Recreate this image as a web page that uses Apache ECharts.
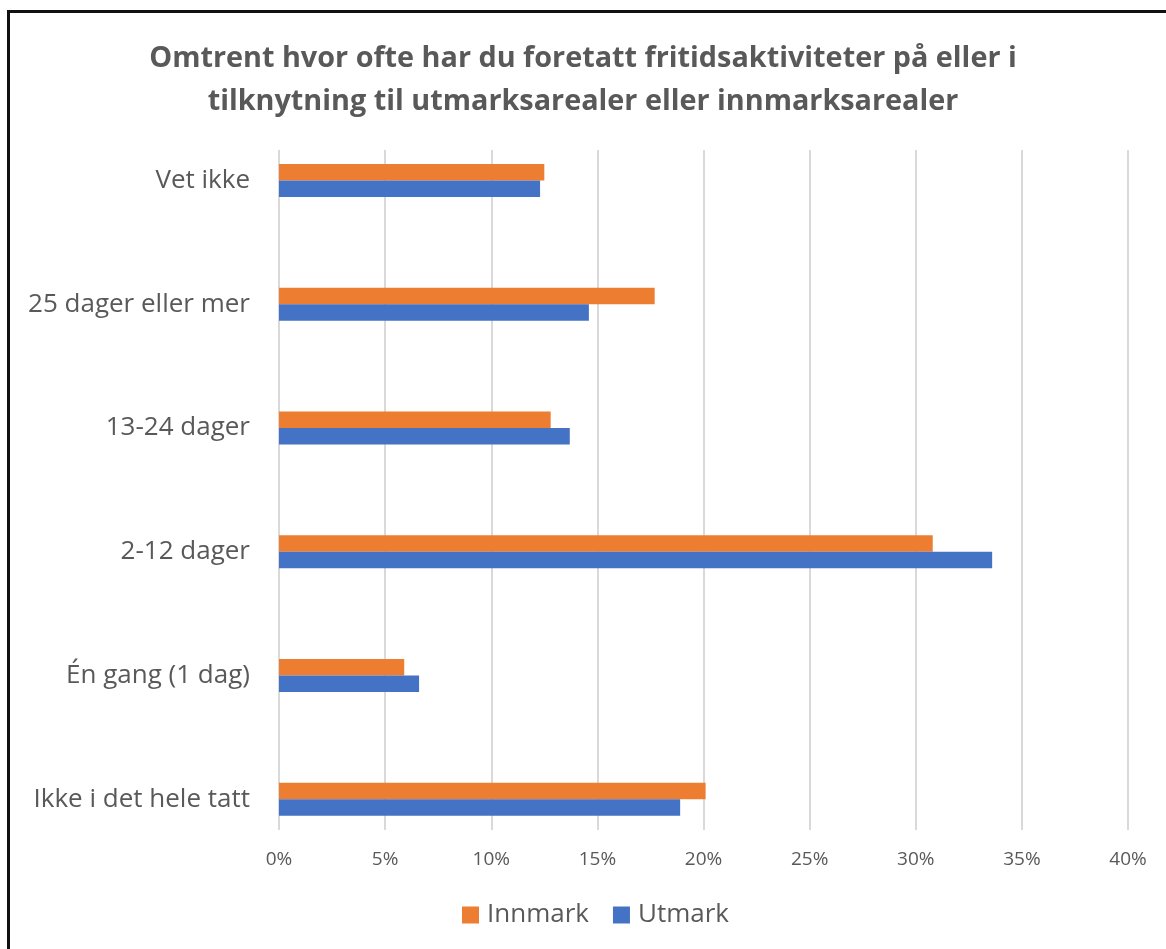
<!DOCTYPE html>
<html>
<head>
<meta charset="utf-8">
<script src="https://cdn.jsdelivr.net/npm/echarts@6/dist/echarts.min.js"></script>
<style>
  html, body { margin: 0; padding: 0; background: #fff; }
  #chart { position: absolute; left: 0; top: 0; width: 1166px; height: 949px; }
  .frame {
    position: absolute; left: 7px; top: 10px; width: 1200px; height: 1000px;
    border-left: 3px solid #111; border-top: 3px solid #111; pointer-events: none;
  }
</style>
</head>
<body>
<div id="chart"></div>
<div class="frame"></div>
<script>
// kategorier fra toppen og ned
const categories = ['Vet ikke', '25 dager eller mer', '13-24 dager', '2-12 dager', 'Én gang (1 dag)', 'Ikke i det hele tatt']
const innmark = [0.125, 0.177, 0.128, 0.308, 0.059, 0.201]
const utmark = [0.123, 0.146, 0.137, 0.336, 0.066, 0.189]
const legendNames = ['Innmark', 'Utmark']

const textColor = '#595959'
const font = '"Open Sans", Lato, sans-serif'

const chart = echarts.init(document.getElementById('chart'))
chart.setOption({
  animation: false,
  title: {
    text: 'Omtrent hvor ofte har du foretatt fritidsaktiviteter på eller i\ntilknytning til utmarksarealer eller innmarksarealer',
    left: 'center',
    top: 37,
    padding: [0, 0, 0, 14],
    textStyle: {
      fontFamily: font,
      fontSize: 28.8,
      fontWeight: 'bold',
      color: textColor,
      lineHeight: 43
    }
  },
  color: ['#ED7D31', '#4472C4'],
  legend: {
    data: legendNames,
    left: 462,
    top: 902,
    padding: 0,
    icon: 'rect',
    itemWidth: 17,
    itemHeight: 17,
    itemGap: 24,
    textStyle: { fontFamily: font, fontSize: 26, color: textColor, padding: [0, 0, 0, 3] }
  },
  grid: [
    // rutenett og x-akse
    { left: 279, right: 38, top: 150, height: 680 },
    // stolpene
    { left: 279, right: 38, top: 118.5, height: 742.5 }
  ],
  xAxis: [
    {
      gridIndex: 0,
      type: 'value',
      min: 0,
      max: 0.4,
      interval: 0.05,
      axisLine: { show: false },
      axisTick: { show: false },
      splitLine: { lineStyle: { color: '#d9d9d9', width: 2 } },
      axisLabel: {
        margin: 20,
        fontFamily: font,
        fontSize: 19,
        color: textColor,
        formatter: v => Math.round(v * 100) + '%'
      }
    },
    {
      gridIndex: 1,
      type: 'value',
      min: 0,
      max: 0.4,
      show: false
    }
  ],
  yAxis: [
    {
      gridIndex: 0,
      type: 'value',
      show: false
    },
    {
      gridIndex: 1,
      type: 'category',
      inverse: true,
      data: categories,
      axisLine: { show: false },
      axisTick: { show: false },
      splitLine: { show: false },
      axisLabel: {
        margin: 29,
        fontFamily: font,
        fontSize: 26,
        color: textColor
      }
    }
  ],
  series: [
    {
      name: 'Innmark',
      type: 'bar',
      xAxisIndex: 1,
      yAxisIndex: 1,
      barWidth: 16.5,
      barGap: '0%',
      data: innmark
    },
    {
      name: 'Utmark',
      type: 'bar',
      xAxisIndex: 1,
      yAxisIndex: 1,
      barWidth: 16.5,
      barGap: '0%',
      data: utmark
    }
  ]
})
</script>
</body>
</html>
